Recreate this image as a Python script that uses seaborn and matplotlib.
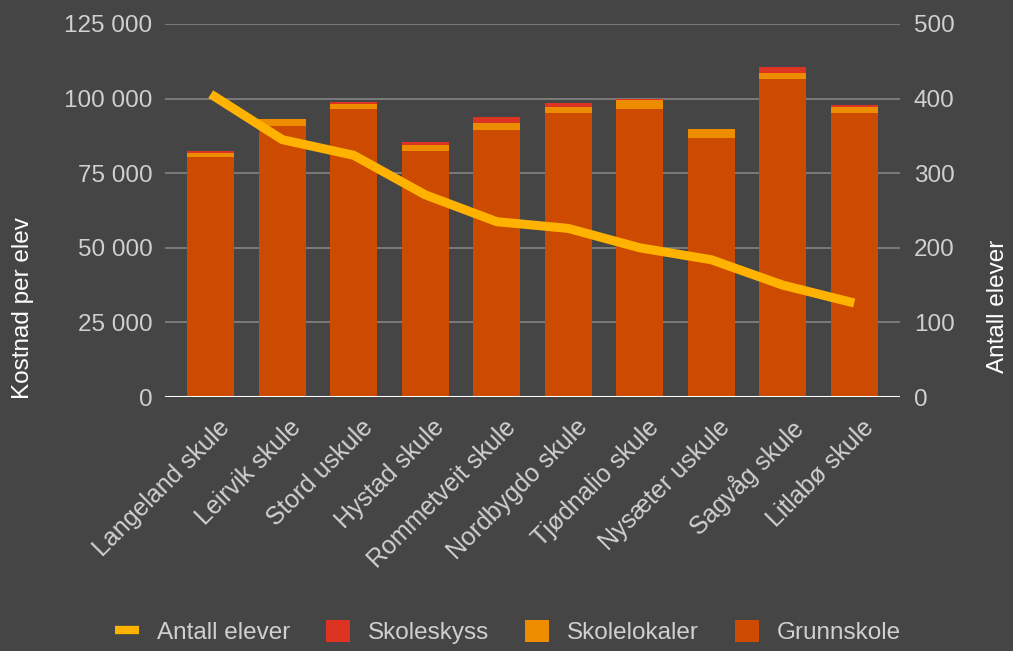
import numpy as np
import pandas as pd
import matplotlib
matplotlib.use("Agg")
import matplotlib.pyplot as plt
import seaborn as sns
from matplotlib.lines import Line2D
from matplotlib.patches import Patch
from matplotlib.ticker import FuncFormatter
from matplotlib.transforms import ScaledTranslation

schools = ["Langeland skule", "Leirvik skule", "Stord uskule", "Hystad skule",
           "Rommetveit skule", "Nordbygdo skule", "Tjødnalio skule",
           "Nysæter uskule", "Sagvåg skule", "Litlabø skule"]
grunnskole = [80400, 90900, 96500, 82400, 89500, 95300, 96500, 86700, 106500, 95100]
skolelokaler = [1300, 2200, 1700, 2200, 2200, 2000, 3000, 3000, 2200, 2200]
skoleskyss = [700, 100, 600, 700, 2000, 1300, 300, 200, 2000, 500]
elever = [406, 345, 324, 271, 235, 226, 200, 184, 150, 126]

bg = "#454545"
txt = "#d0d0d0"
c_grunn = "#cc4b00"
c_lok = "#ee8c00"
c_skyss = "#dd3322"
c_line = "#ffb300"
fs = 17.5

sns.set_theme(style="dark")
plt.rcParams["font.family"] = ["Liberation Sans", "DejaVu Sans"]

df = pd.DataFrame({"skule": schools, "grunn": grunnskole,
                   "lok": skolelokaler, "skyss": skoleskyss, "elever": elever})
df["lvl2"] = df["grunn"] + df["lok"]
df["lvl3"] = df["lvl2"] + df["skyss"]

fig = plt.figure(figsize=(10.13, 6.51), dpi=100, facecolor=bg)
ax = fig.add_axes([165/1013, 1-397/651, 735/1013, 373/651])
ax.set_facecolor(bg)

w = 0.66
for col, c in [("lvl3", c_skyss), ("lvl2", c_lok), ("grunn", c_grunn)]:
    sns.barplot(data=df, x="skule", y=col, color=c, width=w, saturation=1,
                linewidth=0, edgecolor="none", ax=ax, zorder=2)

ax.set_ylim(0, 125000)
ax.set_yticks(np.arange(0, 125001, 25000))
ax.yaxis.set_major_formatter(FuncFormatter(lambda v, p: f"{int(v):,}".replace(",", " ")))
ax.set_xlim(-0.64, 9.64)
ax.grid(axis="y", color="#8a8a8a", lw=1.1, zorder=0)
ax.grid(axis="x", visible=False)
ax.axhline(0, color="white", lw=2.2, zorder=3)
for s in ax.spines.values():
    s.set_visible(False)
ax.tick_params(axis="y", length=0, pad=9, labelsize=fs, labelcolor=txt)
ax.tick_params(axis="x", length=0, pad=13, labelsize=18, labelcolor=txt)
off = ScaledTranslation(7/100, 0, fig.dpi_scale_trans)
for lab in ax.get_xticklabels():
    lab.set_rotation(45)
    lab.set_ha("right")
    lab.set_va("top")
    lab.set_rotation_mode("anchor")
    lab.set_transform(lab.get_transform() + off)
ax.set_xlabel("")
ax.set_ylabel("Kostnad per elev", fontsize=fs, color="white")
ax.yaxis.set_label_coords(-0.178, 0.239)

ax2 = ax.twinx()
sns.lineplot(x=np.arange(len(elever)), y=elever, color=c_line, lw=6.5, ax=ax2,
             solid_joinstyle="round", solid_capstyle="butt", zorder=5)
ax2.set_ylim(0, 500)
ax2.set_yticks(np.arange(0, 501, 100))
ax2.set_xlim(-0.64, 9.64)
for s in ax2.spines.values():
    s.set_visible(False)
ax2.grid(False)
ax2.tick_params(axis="y", length=0, pad=10, labelsize=fs, labelcolor=txt)
ax2.set_ylabel("Antall elever", fontsize=fs, color="white")
ax2.yaxis.set_label_coords(1.118, 0.244)

handles = [Line2D([0], [0], color=c_line, lw=6, solid_capstyle="butt"),
           Patch(facecolor=c_skyss, edgecolor="none"),
           Patch(facecolor=c_lok, edgecolor="none"),
           Patch(facecolor=c_grunn, edgecolor="none")]
labels = ["Antall elever", "Skoleskyss", "Skolelokaler", "Grunnskole"]
fig.legend(handles, labels, loc="center", bbox_to_anchor=(508/1013, 1-632/651),
           ncol=4, frameon=False, fontsize=fs, labelcolor=txt,
           handlelength=1.0, handleheight=1.0, columnspacing=1.45, handletextpad=0.75)

fig.savefig("out.png", dpi=100, facecolor=bg)
